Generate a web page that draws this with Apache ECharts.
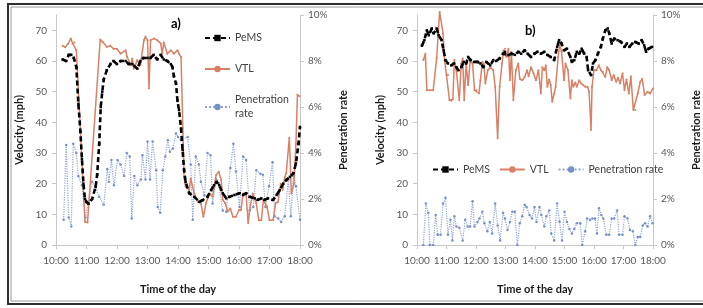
<!DOCTYPE html>
<html>
<head>
<meta charset="utf-8">
<script src="https://cdn.jsdelivr.net/npm/echarts@6/dist/echarts.min.js"></script>
<style>
  html, body { margin: 0; padding: 0; background: #fff; }
  #chart { width: 703px; height: 308px; }
</style>
</head>
<body>
<div id="chart"></div>
<script>
// time in minutes after midnight, velocities in mph, penetration in %
const hourTicks = ['10:00', '11:00', '12:00', '13:00', '14:00', '15:00', '16:00', '17:00', '18:00'];

// panel a)
const pemsATime = [613, 620, 625, 630, 635, 640, 644, 648, 651, 654, 657, 660, 664, 671, 678, 681, 685, 688, 691, 694,
  700, 707, 713, 720, 727, 737, 743, 750, 760, 766, 772, 780, 786, 792, 799, 806, 812, 819, 826, 829,
  832, 836, 839, 842, 846, 849, 852, 855, 862, 872, 882, 888, 898, 905, 911, 916, 921, 928, 935, 941,
  951, 961, 968, 974, 981, 991, 997, 1004, 1010, 1017, 1027, 1034, 1040, 1047, 1053, 1060, 1067, 1072, 1077, 1080];
const pemsAVal = [60.5, 60, 62, 62, 61, 58, 46, 37, 28, 20, 15, 14, 13.5, 15, 19, 23, 33, 45, 50, 54,
  57, 59, 60, 59, 60, 60, 59, 59, 57.5, 60, 61, 61, 61, 62, 60.5, 62, 60.5, 60, 59, 58,
  55, 52.7, 47, 44, 38, 31, 24.4, 20.6, 16.9, 15.7, 14.1, 14.6, 15.7, 17.9, 19.5, 20.6, 19.5, 16.9, 15.2, 15.7,
  16.3, 16.9, 16.3, 16.9, 15.7, 15.2, 14.7, 15.2, 14.7, 15.2, 14.7, 16.3, 17.9, 20, 21.2, 22.2, 23.4, 26.6, 33, 38.5];

const vtlATime = [613, 618, 624, 629, 633, 636, 640, 657, 662, 687, 693, 700, 707, 713, 720, 727, 737, 740, 747, 750,
  753, 760, 766, 773, 776, 780, 783, 786, 793, 799, 806, 809, 812, 819, 826, 832, 839, 842, 846, 852,
  855, 862, 865, 872, 879, 885, 890, 895, 902, 908, 915, 920, 925, 928, 933, 938, 943, 948, 954, 960,
  964, 968, 974, 978, 981, 987, 994, 999, 1004, 1008, 1015, 1020, 1027, 1032, 1037, 1042, 1046, 1050, 1053, 1059,
  1063, 1068, 1072, 1075, 1079];
const vtlAVal = [65, 64.5, 65.7, 67.3, 65.7, 66, 63.5, 7.6, 7.3, 67, 66, 64.6, 65, 64, 64, 62.4, 63.5, 61.3, 58.6, 60.8,
  57.5, 60.3, 58.6, 66.8, 67.9, 66.8, 51, 66.8, 67.3, 66.8, 65.7, 62.4, 66, 62.4, 63.5, 62.4, 63.5, 62.4, 61.3, 22,
  19, 17.9, 21.7, 16.8, 14.1, 13.6, 9.2, 13.6, 16.8, 15.7, 22.8, 23.9, 21.2, 14.7, 13.6, 10.9, 11.9, 9.2, 9.2, 11.4,
  11.4, 16.8, 16.3, 7.1, 11.4, 16.8, 13.6, 8.1, 8.1, 14.7, 12.5, 8.1, 8.1, 13.6, 14.1, 20, 17.9, 22.2, 23.4, 35,
  16.8, 20, 33, 49, 48.5];

const penATime = [615, 620, 625, 630, 634, 640, 644, 651, 658, 671, 678, 685, 694, 701, 704, 709, 714, 721, 727, 734,
  739, 745, 749, 754, 760, 767, 770, 776, 780, 785, 790, 797, 800, 805, 810, 815, 820, 824, 830, 836,
  840, 846, 859, 865, 869, 875, 881, 885, 892, 898, 904, 908, 915, 920, 928, 935, 943, 949, 954, 961,
  968, 974, 981, 988, 994, 1002, 1007, 1012, 1019, 1026, 1030, 1037, 1043, 1050, 1057, 1062, 1067, 1072, 1080];
const penAVal = [1.1, 4.35, 1.2, 0.8, 4.4, 4.0, 3.0, 2.6, 1.2, 2.75, 2.5, 2.1, 1.75, 3.3, 2.75, 3.7, 2.6, 3.7, 3.5, 3.0,
  4.0, 3.85, 1.15, 3.0, 2.6, 2.85, 3.9, 2.85, 4.5, 2.85, 4.5, 3.25, 1.65, 1.4, 3.25, 3.85, 4.55, 4.05, 4.2, 4.85,
  4.7, 4.55, 4.7, 3.5, 1.1, 3.85, 3.5, 2.75, 2.15, 4.0, 3.9, 1.8, 2.85, 2.7, 1.5, 1.45, 3.35, 4.4, 3.2, 1.65,
  3.85, 3.7, 1.5, 1.65, 3.25, 3.1, 3.05, 1.65, 2.55, 3.6, 1.25, 1.15, 1.0, 1.25, 2.85, 1.25, 3.0, 2.55, 1.1];

// panel b)
const pemsBTime = [610, 615, 620, 624, 630, 634, 640, 644, 650, 654, 658, 663, 670, 675, 680, 684, 690, 695, 700, 704,
  709, 716, 723, 729, 735, 741, 749, 755, 761, 768, 775, 779, 786, 792, 799, 806, 812, 819, 825, 832,
  839, 845, 852, 859, 865, 872, 879, 885, 889, 894, 899, 905, 912, 915, 920, 925, 930, 935, 940, 945,
  948, 954, 958, 963, 968, 974, 978, 983, 988, 991, 996, 1001, 1008, 1015, 1022, 1027, 1032, 1038, 1044, 1051,
  1057, 1062, 1066, 1071, 1078];
const pemsBVal = [65, 66.8, 70, 68.4, 70.6, 69, 70.6, 68.4, 66.8, 63.5, 60.3, 59.2, 58.6, 59.2, 58, 57, 58, 59.7, 59.2, 61.3,
  60.3, 59.7, 59.7, 59.2, 58, 59.7, 58.6, 60.3, 60, 60.8, 62.4, 63, 61.9, 62.4, 62, 63, 62.4, 63.5, 62.4, 61.3,
  62.4, 63, 62.4, 63, 62, 61.3, 60.3, 64.6, 66.8, 65.7, 63.5, 64, 61.3, 59.7, 60.3, 63, 62.4, 64, 62.4, 61.3,
  57, 55.4, 59.2, 60.3, 62.4, 64.6, 67.3, 70, 70.6, 69, 65.7, 67.3, 66.8, 66.2, 64.6, 65.7, 64.6, 65.7, 66.2, 65.7,
  66.8, 65.1, 63, 64, 64.6];

const vtlBTime = [613, 617, 620, 626, 633, 640, 646, 653, 656, 660, 663, 666, 670, 673, 676, 680, 683, 686, 690, 693,
  696, 700, 704, 708, 713, 717, 721, 726, 729, 733, 736, 739, 744, 749, 755, 759, 764, 768, 773, 776,
  779, 782, 786, 789, 792, 796, 801, 806, 809, 814, 819, 824, 827, 832, 837, 842, 847, 852, 855, 859,
  862, 865, 869, 872, 875, 879, 882, 887, 890, 894, 899, 902, 907, 912, 915, 918, 922, 925, 930, 934,
  938, 942, 947, 950, 954, 956, 960, 965, 970, 974, 978, 983, 987, 991, 996, 1000, 1005, 1009, 1013, 1018,
  1022, 1026, 1031, 1035, 1040, 1044, 1049, 1054, 1058, 1063, 1069, 1074, 1080];
const vtlBVal = [60.3, 62.4, 50.5, 50.5, 50.5, 61, 76, 69, 60.3, 55.4, 55.4, 47.2, 47, 47.5, 60.3, 57, 57.5, 47.2, 59.2, 60.8,
  47.2, 59.2, 52.1, 59.7, 59.2, 50.5, 50.5, 49.4, 53.7, 59.7, 59, 52.7, 57, 58, 57, 51.6, 34.8, 51.6, 59.2, 63.5,
  64, 61.3, 64, 53.7, 63, 47.2, 57, 59.2, 54.2, 53.7, 54.8, 57, 55, 58, 56, 53.7, 57, 49.4, 58, 57,
  58.6, 51.6, 54, 52.1, 46.7, 49.4, 51.6, 61.3, 65.1, 63, 53.7, 59.2, 57, 47.8, 53.7, 51.6, 53, 51.6, 53.7, 52.7,
  52.1, 51.6, 51.6, 49.9, 37.5, 51.6, 57, 57, 58.6, 57, 56.5, 54.8, 58, 57, 53.7, 55.4, 53.2, 54.5, 52.7, 56,
  50.5, 54, 49.4, 55, 44, 44, 49.4, 53.2, 54.2, 48.9, 49.9, 49.4, 51];

const penBTime = [613, 618, 623, 626, 633, 638, 642, 648, 653, 658, 663, 668, 672, 676, 680, 686, 693, 698, 703, 708,
  713, 717, 723, 727, 733, 737, 743, 748, 753, 759, 764, 769, 775, 779, 784, 789, 794, 799, 804, 809,
  814, 819, 823, 829, 834, 839, 843, 849, 853, 859, 863, 869, 873, 879, 885, 890, 895, 900, 905, 910,
  915, 920, 925, 932, 936, 942, 946, 952, 957, 962, 966, 970, 975, 979, 985, 991, 996, 1001, 1007, 1011,
  1018, 1022, 1028, 1033, 1039, 1044, 1049, 1054, 1059, 1064, 1069, 1074, 1079];
const penBVal = [0, 1.8, 1.4, 0, 0, 1.3, 0.45, 0.45, 1.8, 2.05, 0.45, 1.1, 0.2, 1.25, 0.8, 0.75, 0.2, 1.1, 0.8, 0.8,
  1.9, 0.8, 1.0, 1.15, 1.45, 0.95, 0.6, 1.0, 0.5, 1.8, 0.85, 0.2, 1.4, 1.15, 0.65, 1.0, 1.45, 1.45, 0, 0.95,
  1.25, 1.75, 1.65, 1.3, 1.15, 1.65, 1.0, 1.65, 1.3, 0.8, 1.25, 1.5, 0.5, 0.2, 1.8, 1.0, 0.2, 1.45, 1.0, 0.7,
  0.5, 0.7, 0.95, 0.95, 0, 0.6, 1.15, 1.1, 1.15, 1.15, 0.5, 1.6, 1.3, 1.15, 0.45, 0.45, 1.15, 1.15, 1.5, 0.45,
  0.45, 1.25, 1.15, 0.65, 0.6, 0, 0.35, 0.35, 0.85, 0.95, 0.8, 1.25, 0.95];

const FONT = 'Lato';
const pemsColor = '#000000';
const vtlColor = '#da8064';
const penColor = '#7890c8';

function zip(t, v) { return t.map((x, i) => [x, v[i]]); }

function xAxisFor(grid) {
  return {
    type: 'value', gridIndex: grid, min: 600, max: 1080, interval: 60,
    axisLine: { show: true, lineStyle: { color: '#c8c8c8' } },
    axisTick: { show: true, length: 4, lineStyle: { color: '#c8c8c8' } },
    splitLine: { show: false },
    axisLabel: {
      color: '#595959', fontSize: 10, fontFamily: FONT, margin: 11,
      formatter: v => hourTicks[(v - 600) / 60] || ''
    },
    name: 'Time of the day', nameLocation: 'middle', nameGap: 39,
    nameTextStyle: { color: '#1a1a1a', fontSize: 11, fontWeight: 'bold', fontFamily: FONT }
  };
}
function leftAxis(grid) {
  return {
    type: 'value', gridIndex: grid, min: 0, max: 75, interval: 10, position: 'left',
    axisLine: { show: true, lineStyle: { color: '#c8c8c8' } },
    axisTick: { show: true, length: 4, lineStyle: { color: '#c8c8c8' } },
    splitLine: { show: false },
    axisLabel: { color: '#595959', fontSize: 10, fontFamily: FONT, margin: 9, showMaxLabel: false },
    name: 'Velocity (mph)', nameLocation: 'middle', nameGap: 31,
    nameTextStyle: { color: '#1a1a1a', fontSize: 11, fontWeight: 'bold', fontFamily: FONT }
  };
}
function rightAxis(grid) {
  return {
    type: 'value', gridIndex: grid, min: 0, max: 10, interval: 2, position: 'right',
    axisLine: { show: true, lineStyle: { color: '#c8c8c8' } },
    axisTick: { show: true, length: 4, lineStyle: { color: '#c8c8c8' } },
    splitLine: { show: false },
    axisLabel: { color: '#595959', fontSize: 10, fontFamily: FONT, margin: 8, formatter: '{value}%' },
    name: 'Penetration rate', nameLocation: 'middle', nameGap: 38,
    nameTextStyle: { color: '#1a1a1a', fontSize: 11, fontWeight: 'bold', fontFamily: FONT }
  };
}
function seriesFor(grid, pemsT, pemsV, vtlT, vtlV, penT, penV) {
  return [
    {
      name: 'PeMS', type: 'line', xAxisIndex: grid, yAxisIndex: grid * 2,
      data: zip(pemsT, pemsV), symbol: 'rect', symbolSize: 2.5, showSymbol: true,
      itemStyle: { color: pemsColor },
      lineStyle: { color: pemsColor, width: 2.6, type: [5, 3] }, z: 4
    },
    {
      name: 'VTL', type: 'line', xAxisIndex: grid, yAxisIndex: grid * 2,
      data: zip(vtlT, vtlV), symbol: 'circle', symbolSize: 2, showSymbol: true, clip: false,
      itemStyle: { color: vtlColor },
      lineStyle: { color: vtlColor, width: 1.5 }, z: 3
    },
    {
      name: 'Penetration rate', type: 'line', xAxisIndex: grid, yAxisIndex: grid * 2 + 1,
      data: zip(penT, penV), symbol: 'circle', symbolSize: 2.5, showSymbol: true,
      itemStyle: { color: penColor },
      lineStyle: { color: '#8ea4d6', width: 1.2, type: 'dotted' }, z: 2
    }
  ];
}

const chart = echarts.init(document.getElementById('chart'), null, { renderer: 'canvas' });
chart.setOption({
  backgroundColor: '#ffffff',
  animation: false,
  textStyle: { fontFamily: FONT },
  title: [
    { text: 'a)', left: 166, top: 12, textStyle: { fontSize: 13, fontWeight: 'bold', color: '#000', fontFamily: FONT } },
    { text: 'b)', left: 520, top: 19, textStyle: { fontSize: 13, fontWeight: 'bold', color: '#000', fontFamily: FONT } }
  ],
  legend: [
    {
      orient: 'vertical', left: 199, top: 26, itemGap: 17, itemWidth: 25, itemHeight: 8,
      data: ['PeMS', 'VTL', 'Penetration rate'],
      formatter: n => n === 'Penetration rate' ? 'Penetration\nrate' : n,
      textStyle: { color: '#404040', fontSize: 10.5, fontFamily: FONT, lineHeight: 14 }
    },
    {
      orient: 'horizontal', left: 427, top: 159, itemGap: 9, itemWidth: 25, itemHeight: 8,
      data: ['PeMS', 'VTL', 'Penetration rate'],
      textStyle: { color: '#404040', fontSize: 10.5, fontFamily: FONT }
    }
  ],
  grid: [
    { left: 56, right: 403, top: 15, bottom: 63 },
    { left: 417, right: 45, top: 15, bottom: 63 }
  ],
  xAxis: [xAxisFor(0), xAxisFor(1)],
  yAxis: [leftAxis(0), rightAxis(0), leftAxis(1), rightAxis(1)],
  series: [
    ...seriesFor(0, pemsATime, pemsAVal, vtlATime, vtlAVal, penATime, penAVal),
    ...seriesFor(1, pemsBTime, pemsBVal, vtlBTime, vtlBVal, penBTime, penBVal)
  ],
  graphic: [
    { type: 'rect', silent: true, shape: { x: 8, y: 4, width: 720, height: 300 },
      style: { fill: 'none', stroke: '#2e2e2e', lineWidth: 2 } },
    { type: 'rect', silent: true, shape: { x: 11, y: 7, width: 720, height: 294 },
      style: { fill: 'none', stroke: '#9a9a9a', lineWidth: 1 } }
  ]
});
</script>
</body>
</html>
